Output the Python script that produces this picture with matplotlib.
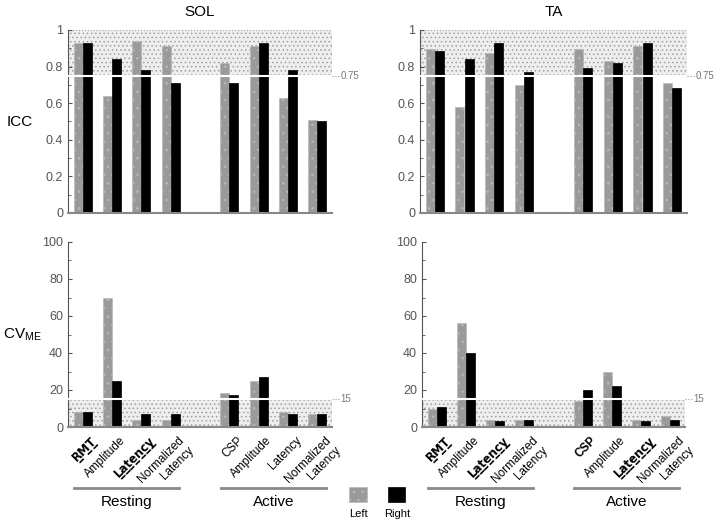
import matplotlib
matplotlib.use("Agg")
from matplotlib import pyplot as plt
from matplotlib.patches import Rectangle
import numpy as np

plt.rcParams['font.family'] = ['Liberation Sans Narrow', 'Liberation Sans', 'DejaVu Sans']
plt.rcParams['hatch.linewidth'] = 0.6

# categorias (con un hueco entre Resting y Active)
posiciones = [0, 1, 2, 3, 5, 6, 7, 8]
etiquetas_sol = ["RMT", "Amplitude", "Latency", "Normalized\nLatency",
                 "CSP", "Amplitude", "Latency", "Normalized\nLatency"]
etiquetas_ta = etiquetas_sol

# ICC
icc_sol_izq = [0.927, 0.64, 0.94, 0.915, 0.82, 0.915, 0.63, 0.51]
icc_sol_der = [0.93, 0.84, 0.78, 0.71, 0.71, 0.93, 0.78, 0.50]
icc_ta_izq = [0.896, 0.578, 0.875, 0.70, 0.896, 0.83, 0.915, 0.71]
icc_ta_der = [0.887, 0.84, 0.93, 0.77, 0.79, 0.82, 0.93, 0.684]

# CV_ME
cv_sol_izq = [8, 70, 4, 4, 18.4, 25, 8, 7]
cv_sol_der = [8, 25, 7, 7, 17.5, 27, 7, 7]
cv_ta_izq = [10, 56.4, 4, 4, 14, 29.5, 4, 6]
cv_ta_der = [11, 40, 3, 4, 20, 22, 3, 4]

# estilo de etiquetas: (negrita, subrayado)
estilo_sol = [(True, True), (False, False), (True, True), (False, False),
              (False, False), (False, False), (False, False), (False, False)]
estilo_ta = [(True, True), (False, False), (True, True), (False, False),
             (True, False), (False, False), (True, True), (False, False)]

gris = "#9a9a9a"
W = 715
H = 523
fig = plt.figure(figsize=(7.15, 5.23), dpi=100)


def caja(x0, y0, x1, y1):
    # pixeles -> fraccion de figura
    return [x0 / W, 1 - y1 / H, (x1 - x0) / W, (y1 - y0) / H]


def panel(ax, izq, der, ymax, umbral, umbral_txt, mayor, menor, fmt):
    x = np.array(posiciones)
    w = 0.31
    # zona sombreada
    if umbral_txt == "0.75":
        ax.add_patch(Rectangle((-0.5, umbral), 9, ymax - umbral, facecolor="#eeeeee",
                               edgecolor="#a0a0a0", hatch="....", lw=0.8, ls=":", zorder=0))
    else:
        ax.add_patch(Rectangle((-0.5, 0), 9, umbral, facecolor="#eeeeee",
                               edgecolor="#a0a0a0", hatch="....", lw=0.8, ls=":", zorder=0))
    ax.bar(x - w / 2, izq, w, color=gris, edgecolor="#b8b8b8", lw=0.5, hatch="..", zorder=2)
    ax.bar(x + w / 2, der, w, color="black", edgecolor="black", lw=0.5, zorder=2)
    ax.axhline(umbral, color="white", lw=1.5, zorder=3)
    ax.plot([8.5, 8.75], [umbral, umbral], color="#999999", lw=0.8, ls=":", clip_on=False)
    ax.text(8.8, umbral, umbral_txt, fontsize=7, color="#777777", va="center", ha="left")
    ax.set_xlim(-0.5, 8.5)
    ax.set_ylim(0, ymax)
    ax.set_yticks(np.arange(0, ymax + menor / 2, mayor))
    ax.set_yticks(np.arange(0, ymax + menor / 2, menor), minor=True)
    ax.set_yticklabels([fmt(v) for v in np.arange(0, ymax + menor / 2, mayor)])
    ax.tick_params(axis="y", colors="#555555", labelsize=9, length=3, direction="in")
    ax.tick_params(axis="y", which="minor", length=2, direction="in", colors="#555555")
    for s in ["top", "right"]:
        ax.spines[s].set_visible(False)
    ax.spines["left"].set_color("#555555")
    ax.spines["bottom"].set_color("#888888")
    ax.spines["bottom"].set_linewidth(1.5)


def fmt_icc(v):
    return "0" if v == 0 else ("1" if abs(v - 1) < 1e-9 else "%.1f" % v)


def fmt_cv(v):
    return "%d" % v


def etiquetas_x(ax, etiquetas, estilos):
    ax.set_xticks(posiciones)
    ax.set_xticklabels([])
    ax.tick_params(axis="x", length=0)
    for p, et, (neg, sub) in zip(posiciones, etiquetas, estilos):
        t = et
        if sub:
            t = "".join(c + "\u0332" if c != "\n" else c for c in et)
        ax.text(p + 0.25, -0.04, t, transform=ax.get_xaxis_transform(), rotation=45,
                ha="right", va="top", fontsize=8.5, fontweight="bold" if neg else "normal",
                family=["DejaVu Sans"] if sub else None, rotation_mode="anchor",
                multialignment="right")
    tr = ax.get_xaxis_transform()
    ax.plot([-0.3, 3.3], [-0.33, -0.33], transform=tr, color="#888888", lw=2,
            clip_on=False)
    ax.plot([4.7, 8.3], [-0.33, -0.33], transform=tr, color="#888888", lw=2,
            clip_on=False)
    ax.text(1.5, -0.37, "Resting", transform=tr, ha="center", va="top", fontsize=11)
    ax.text(6.5, -0.37, "Active", transform=tr, ha="center", va="top", fontsize=11)


ax1 = fig.add_axes(caja(68, 30, 332, 213))
panel(ax1, icc_sol_izq, icc_sol_der, 1.0, 0.75, "0.75", 0.2, 0.1, fmt_icc)
ax1.set_xticks([])
ax1.set_title("SOL", fontsize=11, pad=10)

ax2 = fig.add_axes(caja(420, 30, 687, 213))
panel(ax2, icc_ta_izq, icc_ta_der, 1.0, 0.75, "0.75", 0.2, 0.1, fmt_icc)
ax2.set_xticks([])
ax2.set_title("TA", fontsize=11, pad=10)

ax3 = fig.add_axes(caja(68, 242, 332, 427))
panel(ax3, cv_sol_izq, cv_sol_der, 100, 15, "15", 20, 10, fmt_cv)
etiquetas_x(ax3, etiquetas_sol, estilo_sol)

ax4 = fig.add_axes(caja(422, 242, 685, 427))
panel(ax4, cv_ta_izq, cv_ta_der, 100, 15, "15", 20, 10, fmt_cv)
etiquetas_x(ax4, etiquetas_ta, estilo_ta)

fig.text(20 / W, 1 - 122 / H, "ICC", fontsize=11, ha="center", va="center")
fig.text(22 / W, 1 - 335 / H, "CV$_{\\mathregular{ME}}$", fontsize=11, ha="center", va="center")

# leyenda
fig.patches.append(Rectangle((349 / W, 1 - 502 / H), 18 / W, 15 / H, transform=fig.transFigure,
                             facecolor=gris, edgecolor="#b8b8b8", hatch="..", lw=0.5))
fig.patches.append(Rectangle((388 / W, 1 - 502 / H), 17 / W, 15 / H, transform=fig.transFigure,
                             facecolor="black", edgecolor="black", lw=0.5))
fig.text(358 / W, 1 - 514 / H, "Left", fontsize=8, ha="center", va="center")
fig.text(397 / W, 1 - 514 / H, "Right", fontsize=8, ha="center", va="center")

plt.savefig("out.png", dpi=100)
